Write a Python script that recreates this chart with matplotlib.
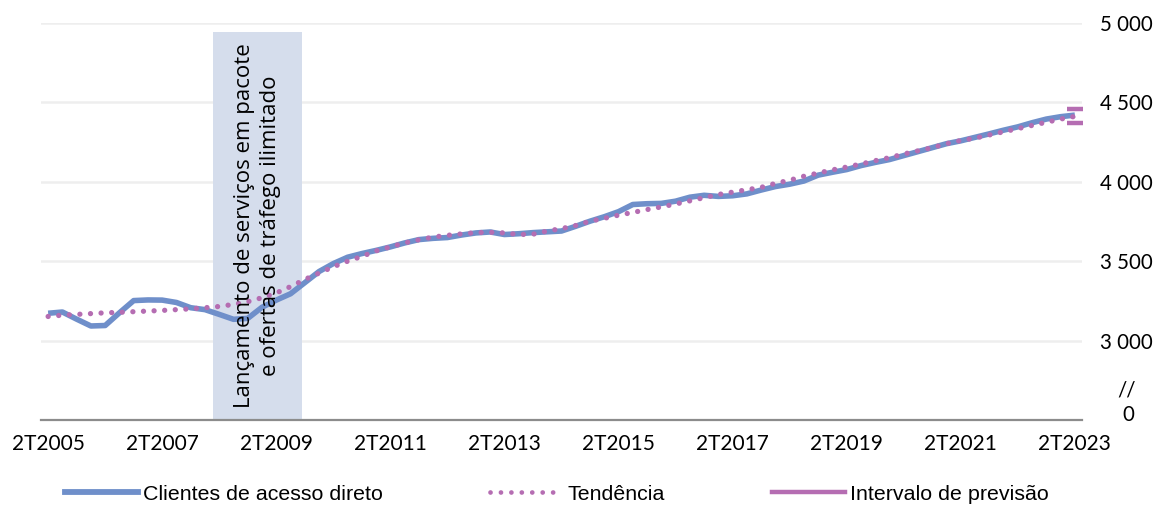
import matplotlib
matplotlib.use("Agg")
import matplotlib.pyplot as plt
from matplotlib.lines import Line2D

# ---------------- data ----------------
quarters = [f"{q}T{y}" for y in range(2005, 2024) for q in range(1, 5)]
quarters = quarters[quarters.index("2T2005"):quarters.index("2T2023") + 1]

clientes = [3172, 3180, 3135, 3092, 3095, 3175, 3252, 3256, 3255, 3240,
            3207, 3195, 3165, 3134, 3140, 3210, 3255, 3295, 3365, 3435,
            3485, 3525, 3548, 3568, 3590, 3615, 3636, 3644, 3649, 3665,
            3678, 3684, 3668, 3673, 3680, 3685, 3690, 3720, 3752, 3780,
            3812, 3857, 3862, 3864, 3878, 3903, 3915, 3908, 3912, 3924,
            3948, 3970, 3985, 4005, 4042, 4060, 4077, 4102, 4122, 4140,
            4165, 4190, 4215, 4240, 4258, 4280, 4302, 4325, 4346, 4372,
            4395, 4410, 4420]

tendencia = [3152, 3160, 3165, 3170, 3175, 3178, 3182, 3186, 3190, 3195,
             3200, 3207, 3215, 3228, 3245, 3270, 3300, 3340, 3385, 3425,
             3465, 3500, 3530, 3565, 3590, 3615, 3635, 3652, 3663, 3672,
             3680, 3682, 3678, 3668, 3670, 3690, 3705, 3725, 3752, 3770,
             3790, 3807, 3825, 3842, 3860, 3880, 3900, 3920, 3935, 3950,
             3965, 3990, 4010, 4035, 4055, 4075, 4093, 4112, 4133, 4152,
             4175, 4195, 4215, 4240, 4260, 4275, 4295, 4315, 4335, 4355,
             4375, 4395, 4412]

intervalo_sup = 4458
intervalo_inf = 4370

band_start, band_end, band_top = 11.55, 17.8, 4943
annotation = "Lançamento de serviços em pacote\ne ofertas de tráfego ilimitado"

y_ticks = [3000, 3500, 4000, 4500, 5000]
y_ticklabels = ["3 000", "3 500", "4 000", "4 500", "5 000"]
y_min, y_max = 2500, 5000
x_tick_step = 8

legend_labels = ["Clientes de acesso direto", "Tendência", "Intervalo de previsão"]

# ---------------- style ----------------
BLUE = "#6F8FCA"
PINK = "#B56DB2"
BAND = "#D5DDEC"
GRID = "#EEEEEE"
AXIS = "#8C8C8C"

fig = plt.figure(figsize=(11.6, 5.05), dpi=100)
ax = fig.add_axes([41/1160, 85/505, 1041/1160, 397/505])

x = list(range(len(quarters)))

ax.fill_between([band_start, band_end], y_min, band_top, color=BAND, lw=0, zorder=1)

for yt in y_ticks:
    ax.axhline(yt, color=GRID, lw=1.8, zorder=0)

ax.plot(x, clientes, color=BLUE, lw=4.0, solid_joinstyle="round",
        solid_capstyle="butt", zorder=3)
ax.plot(x, tendencia, color=PINK, lw=3.8, linestyle=(0, (0.01, 2.0)),
        dash_capstyle="round", zorder=4)
ax.plot([x[-1], x[-1]], [intervalo_sup, intervalo_inf], linestyle="none",
        marker="_", markersize=11, markeredgewidth=3.2, color=PINK,
        clip_on=False, zorder=5)

ax.text((band_start + band_end) / 2, (y_min + band_top) / 2, annotation,
        rotation=90, ha="center", va="center", multialignment="center",
        fontsize=16, family="Open Sans", color="black", zorder=6,
        linespacing=1.28)

ax.set_xlim(-0.5, len(quarters) - 0.5)
ax.set_ylim(y_min, y_max)

ax.set_xticks(x[::x_tick_step])
ax.set_xticklabels(quarters[::x_tick_step], fontsize=15, family="Lato")
ax.tick_params(axis="x", length=0, pad=10)

ax.yaxis.tick_right()
ax.set_yticks(y_ticks)
ax.set_yticklabels(y_ticklabels, fontsize=14.8, family="Lato")
ax.tick_params(axis="y", length=0, pad=13)

for s in ["top", "left", "right"]:
    ax.spines[s].set_visible(False)
ax.spines["bottom"].set_color(AXIS)
ax.spines["bottom"].set_linewidth(1.6)
ax.spines["bottom"].set_zorder(2)

ax.text(1.0442, 0.0126, "0", transform=ax.transAxes, ha="center", va="center",
        fontsize=14.8, family="Lato")
ax.text(1.0432, 0.074, "//", transform=ax.transAxes, ha="center", va="center",
        fontsize=14.8, family="Lato")

handles = [
    Line2D([], [], color=BLUE, lw=4.2),
    Line2D([], [], color=PINK, lw=3.4, linestyle=(0, (0.01, 2.2)), dash_capstyle="round"),
    Line2D([], [], color=PINK, lw=3.2),
]
fig.legend(handles, legend_labels, loc="center", bbox_to_anchor=(557/1160, 11/505),
           ncol=3, frameon=False, prop={"family": "Liberation Sans", "size": 15.4},
           handlelength=3.4, handletextpad=0.25, columnspacing=5.0,
           borderpad=0, borderaxespad=0)

fig.savefig("out.png", dpi=100)
